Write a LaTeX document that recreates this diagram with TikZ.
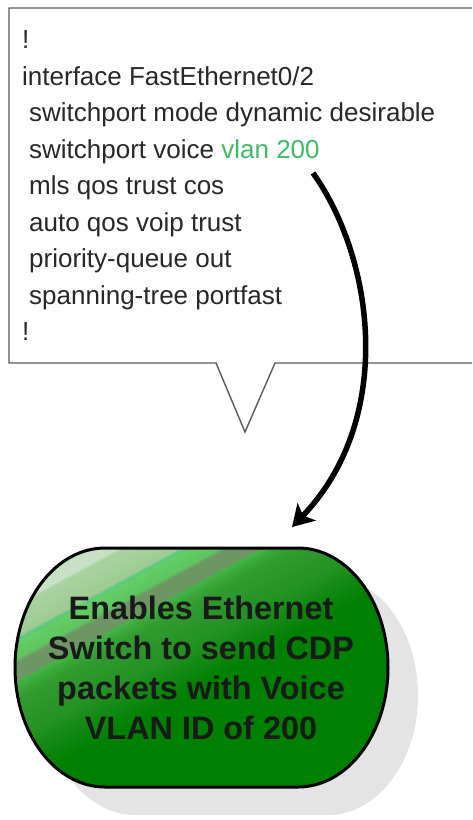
\documentclass[tikz,border=0pt]{standalone}
\usepackage{fontspec}
\setmainfont{Liberation Sans}
\usetikzlibrary{arrows.meta}
\definecolor{vlangreen}{RGB}{60,190,100}
\definecolor{txtgray}{RGB}{40,40,40}
\definecolor{boxline}{RGB}{90,90,90}
\definecolor{shadowgray}{RGB}{228,228,228}
\definecolor{gA}{RGB}{205,228,205}
\definecolor{gA2}{RGB}{198,225,195}
\definecolor{gB}{RGB}{170,210,160}
\definecolor{gB2}{RGB}{158,204,148}
\definecolor{gT}{RGB}{90,200,130}
\definecolor{gC}{RGB}{100,205,100}
\definecolor{gD}{RGB}{95,198,95}
\definecolor{gE}{RGB}{110,150,100}
\definecolor{gF}{RGB}{65,180,70}
\definecolor{gF2}{RGB}{58,168,58}
\definecolor{gG}{RGB}{50,155,50}
\definecolor{gH}{RGB}{35,145,35}
\definecolor{gI}{RGB}{0,128,0}
\pgfdeclarehorizontalshading{greenstreak}{100bp}{color(0bp)=(gA); color(25bp)=(gA); color(33.9bp)=(gA2); color(34.2bp)=(gB); color(37.1bp)=(gB2); color(37.4bp)=(gT); color(37.8bp)=(gC); color(39.3bp)=(gD); color(39.7bp)=(gE); color(41.3bp)=(gE); color(41.7bp)=(gF); color(42.3bp)=(gF2); color(43.3bp)=(gG); color(47.2bp)=(gH); color(51.7bp)=(gI); color(100bp)=(gI)}
\tikzset{
  codeline/.style={anchor=base west, inner sep=0pt, font=\fontsize{26}{30}\selectfont, text=txtgray},
  boxtext/.style={align=center, inner sep=0pt, text=black!90, font=\fontsize{32.4}{40}\selectfont\bfseries},
  flowarrow/.style={line width=5.5pt, -{Stealth[length=21pt,width=25pt,inset=5pt]}}
}
\newcommand{\pillpath}[2]{% #1 = x shift, #2 = y shift
  (105+#1,548+#2) -- (298+#1,548+#2)
  arc[start angle=270,end angle=450,x radius=90,y radius=119.5]
  -- (105+#1,787+#2)
  arc[start angle=90,end angle=270,x radius=90,y radius=119.5] -- cycle}
\begin{document}
\begin{tikzpicture}[x=1pt,y=-1pt]
\useasboundingbox (0,0) rectangle (472,820);
\clip (0,0) rectangle (472,820);
\fill[white] (0,0) rectangle (472,820);
% callout box
\filldraw[fill=white, draw=boxline, line width=1.4pt, line join=miter]
  (480,8) -- (9,8) -- (9,363) -- (216,363) -- (245,432) -- (275,363) -- (480,363);
% code lines
\node[codeline] (l1) at (22,48) {!};
\node[codeline] (l2) at (22,85) {interface FastEthernet0/2};
\node[codeline] (l3) at (29,121) {switchport mode dynamic desirable};
\node[codeline] (l4) at (29,158) {switchport voice \textcolor{vlangreen}{vlan 200}};
\node[codeline] (l5) at (29,194) {mls qos trust cos};
\node[codeline] (l6) at (29,231) {auto qos voip trust};
\node[codeline] (l7) at (29,267) {priority-queue out};
\node[codeline] (l8) at (29,304) {spanning-tree portfast};
\node[codeline] (l9) at (22,340) {!};
% shadow
\fill[shadowgray] \pillpath{30}{28};
% green pill with diagonal streaks
\begin{scope}
  \clip \pillpath{0}{0};
  \begin{scope}[transform canvas={rotate around={-61.5:(201.5,667.5)}}]
    \shade[shading=greenstreak] (-23.5,442.5) rectangle (426.5,892.5);
  \end{scope}
\end{scope}
\draw[black, line width=3pt] \pillpath{0}{0};
\node[boxtext] (enable) at (201,667.5) {Enables Ethernet\\Switch to send CDP\\packets with Voice\\VLAN ID of 200};
% arrow
\coordinate (astart) at (313,173);
\coordinate (aend) at (292,527);
\draw[flowarrow] (astart) .. controls (375,260) and (395,420) .. (aend);
\end{tikzpicture}
\end{document}
